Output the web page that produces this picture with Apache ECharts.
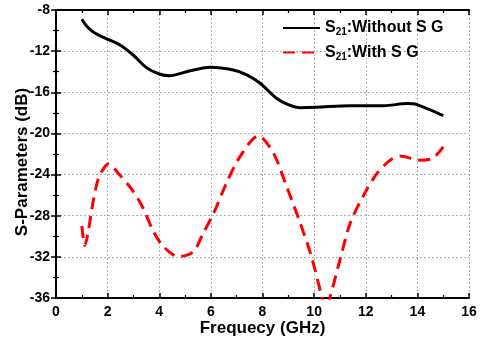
<!DOCTYPE html>
<html><head><meta charset="utf-8">
<script src="https://cdn.jsdelivr.net/npm/echarts@6/dist/echarts.min.js"></script>
<style>html,body{margin:0;padding:0;background:#fff}#c{width:481px;height:340px}</style>
</head><body><div id="c"></div>
<script>
var freqWithout = [1.0,1.2,1.45,1.7,1.96,2.48,3.0,3.5,4.03,4.42,5.06,5.97,6.87,7.39,7.9,8.55,9.0,9.46,10.1,11.4,12.7,13.6,13.98,15.0];
var s21Without  = [-8.9,-9.6,-10.15,-10.5,-10.8,-11.4,-12.4,-13.6,-14.25,-14.4,-14.0,-13.57,-13.83,-14.3,-15.1,-16.6,-17.2,-17.5,-17.46,-17.3,-17.3,-17.1,-17.2,-18.27];
var freqWith = [1.0,1.12,1.25,1.45,1.64,1.9,2.03,2.42,3.0,3.38,3.77,4.16,4.74,5.32,5.7,6.1,6.6,7.13,7.84,8.42,8.94,9.46,9.9,10.3,10.45,10.62,11.0,11.4,11.9,12.43,12.95,13.33,14.1,14.6,15.0];
var s21With  = [-29.0,-30.9,-29.5,-26.5,-24.4,-23.2,-22.97,-23.9,-25.65,-27.3,-29.5,-31.0,-31.97,-31.5,-29.7,-27.8,-24.85,-22.25,-20.25,-21.9,-25.2,-28.7,-32.0,-35.9,-37.2,-35.9,-32.3,-28.7,-26.1,-23.9,-22.6,-22.2,-22.6,-22.4,-21.3];
var xTicks = [0,2,4,6,8,10,12,14,16];
var yTicks = [-36,-32,-28,-24,-20,-16,-12,-8];
var seriesNames = ['S21:Without S G','S21:With S G'];

function pairs(xs, ys){ return xs.map(function(x,i){ return [x, ys[i]]; }); }
var F = 'Liberation Sans, Arial, sans-serif';
var chart = echarts.init(document.getElementById('c'), null, {renderer:'canvas'});
var axLine = {show:true, lineStyle:{color:'#000', width:2}};
var tick = {show:true, inside:true, length:5, lineStyle:{color:'#000', width:1.5}};
var minor = {show:true, splitNumber:2, length:3, lineStyle:{color:'#000', width:1.2}};
var split = {show:true, lineStyle:{color:'#b0b0b0', type:[2,2], width:1}};
chart.setOption({
  animation:false,
  grid:{left:56, right:12, top:10, bottom:42, containLabel:false, outerBoundsMode:'none'},
  legend:{
    orient:'vertical', left:277, top:15, itemGap:7, itemWidth:37, itemHeight:16,
    data:seriesNames,
    itemStyle:{opacity:0},
    formatter:function(n){ return n.replace('S21','S{sub|21}'); },
    textStyle:{fontFamily:F, fontSize:16, fontWeight:'bold', color:'#000',
      rich:{sub:{fontFamily:F, fontSize:10, fontWeight:'bold', verticalAlign:'bottom', padding:[9,0,0,0]}}}
  },
  xAxis:[{
    type:'value', min:0, max:16, interval:2, position:'bottom',
    axisLine:axLine, axisTick:tick, minorTick:minor, splitLine:split,
    axisLabel:{fontFamily:F, fontSize:14, fontWeight:'bold', color:'#000', margin:7,
      formatter:function(v){ return xTicks.indexOf(v)>=0 ? String(v) : ''; }},
    name:'Frequecy (GHz)', nameLocation:'middle', nameGap:22, nameMoveOverlap:false,
    nameTextStyle:{fontFamily:F, fontSize:17, fontWeight:'bold', color:'#000'}
  },{
    type:'value', min:0, max:16, interval:2, position:'top',
    axisLine:axLine, axisTick:tick, minorTick:minor, splitLine:{show:false}, axisLabel:{show:false}
  }],
  yAxis:[{
    type:'value', min:-36, max:-8, interval:4, position:'left',
    axisLine:axLine, axisTick:tick, minorTick:minor, splitLine:split,
    axisLabel:{fontFamily:F, fontSize:14, fontWeight:'bold', color:'#000', margin:6,
      formatter:function(v){ return yTicks.indexOf(v)>=0 ? String(v) : ''; }},
    name:'S-Parameters (dB)', nameLocation:'middle', nameGap:25, nameRotate:90, nameMoveOverlap:false,
    nameTextStyle:{fontFamily:F, fontSize:17, fontWeight:'bold', color:'#000', padding:[0,16,0,0]}
  },{
    type:'value', min:-36, max:-8, interval:4, position:'right',
    axisLine:axLine, axisTick:tick, minorTick:minor, splitLine:{show:false}, axisLabel:{show:false}
  }],
  series:[{
    name:seriesNames[0], type:'line', smooth:0.3, symbol:'none', clip:true,
    data:pairs(freqWithout, s21Without),
    lineStyle:{color:'#000', width:3}, itemStyle:{color:'#000'}
  },{
    name:seriesNames[1], type:'line', smooth:0.3, symbol:'none', clip:true,
    data:pairs(freqWith, s21With),
    lineStyle:{color:'#ff0000', width:3, type:[12,7]}, itemStyle:{color:'#ff0000'}
  }]
});
</script></body></html>
